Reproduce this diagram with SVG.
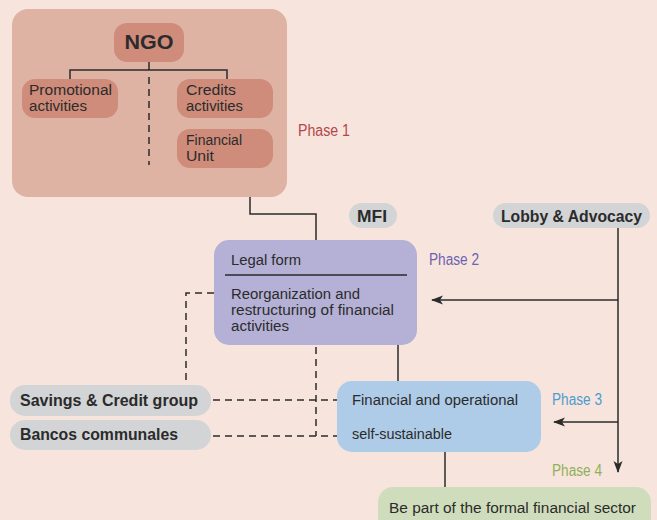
<svg xmlns="http://www.w3.org/2000/svg" width="657" height="520" viewBox="0 0 657 520">
<defs>
<marker id="arr" viewBox="0 0 12 10" markerWidth="12" markerHeight="10" refX="11" refY="5" orient="auto" markerUnits="userSpaceOnUse">
<path d="M0,0.5 L12,5 L0,9.5 L3,5 Z" fill="#2b2b2b"/>
</marker>
<style>
.t{font-family:"Liberation Sans",Arial,sans-serif;font-size:15.5px;fill:#2b2b2b}
.b{font-family:"Liberation Sans",Arial,sans-serif;font-size:16.5px;font-weight:bold;fill:#2b2b2b}
.ph{font-family:"Liberation Sans",Arial,sans-serif;font-size:16px}
.ln{stroke:#2b2b2b;stroke-width:1.5;fill:none}
.dl{stroke:#2b2b2b;stroke-width:1.5;fill:none;stroke-dasharray:7,5}
.inner{fill:#cf8c7a}
.pill{fill:#d3d4d6}
</style>
</defs>
<rect x="0" y="0" width="657" height="520" fill="#f7e5dd"/>

<g id="phase1">
<rect x="12" y="9" width="275" height="188" rx="16" fill="#dfb3a3"/>
</g>

<g id="connectors">
<path class="ln" d="M149,62 V70 M70,79 V70 H227 V79"/>
<path class="dl" d="M149,77 V165"/>
<path class="ln" d="M250,197 V214 H316 V240"/>
<path class="ln" d="M398,345 V381"/>
<path class="ln" d="M445,452 V488"/>
<path class="ln" d="M618,228 V472" marker-end="url(#arr)"/>
<path class="ln" d="M618,300 H432" marker-end="url(#arr)"/>
<path class="ln" d="M618,422 H554" marker-end="url(#arr)"/>
<path class="dl" d="M214,293 H186 V385"/>
<path class="dl" d="M316,347 V436"/>
<path class="dl" d="M213,400 H337"/>
<path class="dl" d="M213,436 H337"/>
</g>

<g id="ngo">
<rect x="114" y="23" width="70" height="39" rx="13" class="inner"/>
<text x="149" y="49" text-anchor="middle" class="b" style="font-size:20px" textLength="49" lengthAdjust="spacingAndGlyphs">NGO</text>
</g>
<g id="promotional">
<rect x="22" y="79" width="96" height="39" rx="13" class="inner"/>
<text x="29" y="95" class="t" textLength="83" lengthAdjust="spacingAndGlyphs">Promotional</text>
<text x="29" y="111" class="t" textLength="58" lengthAdjust="spacingAndGlyphs">activities</text>
</g>
<g id="credits">
<rect x="177" y="79" width="96" height="39" rx="13" class="inner"/>
<text x="186" y="95" class="t" textLength="50" lengthAdjust="spacingAndGlyphs">Credits</text>
<text x="186" y="111" class="t" textLength="57" lengthAdjust="spacingAndGlyphs">activities</text>
</g>
<g id="financialunit">
<rect x="177" y="129" width="96" height="39" rx="13" class="inner"/>
<text x="186" y="145" class="t" textLength="56" lengthAdjust="spacingAndGlyphs">Financial</text>
<text x="186" y="161" class="t" textLength="28" lengthAdjust="spacingAndGlyphs">Unit</text>
</g>
<text x="298" y="136" class="ph" fill="#b5454a" textLength="52" lengthAdjust="spacingAndGlyphs">Phase 1</text>

<g id="mfi">
<rect x="349" y="203" width="48" height="25" rx="12.5" class="pill"/>
<text x="357" y="222" class="b" textLength="30" lengthAdjust="spacingAndGlyphs">MFI</text>
</g>
<g id="lobby">
<rect x="493" y="203" width="157" height="25" rx="12.5" class="pill"/>
<text x="501" y="222" class="b" textLength="141" lengthAdjust="spacingAndGlyphs">Lobby &amp; Advocacy</text>
</g>

<g id="legal">
<rect x="214" y="240" width="203" height="105" rx="15" fill="#b5b1d6"/>
<text x="231" y="265" class="t" textLength="70" lengthAdjust="spacingAndGlyphs">Legal form</text>
<line x1="225" y1="275" x2="407" y2="275" class="ln"/>
<text x="231" y="299" class="t" textLength="129" lengthAdjust="spacingAndGlyphs">Reorganization and</text>
<text x="231" y="315" class="t" textLength="163" lengthAdjust="spacingAndGlyphs">restructuring of financial</text>
<text x="231" y="331" class="t" textLength="58" lengthAdjust="spacingAndGlyphs">activities</text>
</g>
<text x="429" y="265" class="ph" fill="#6d62b0" textLength="50" lengthAdjust="spacingAndGlyphs">Phase 2</text>

<g id="savings">
<rect x="10" y="385" width="201" height="31" rx="15" class="pill"/>
<text x="20" y="406" class="b" textLength="178" lengthAdjust="spacingAndGlyphs">Savings &amp; Credit group</text>
</g>
<g id="bancos">
<rect x="10" y="420" width="201" height="30" rx="15" class="pill"/>
<text x="20" y="440" class="b" textLength="158" lengthAdjust="spacingAndGlyphs">Bancos communales</text>
</g>

<g id="financial">
<rect x="337" y="381" width="204" height="71" rx="15" fill="#aecbe7"/>
<text x="352" y="405" class="t" textLength="166" lengthAdjust="spacingAndGlyphs">Financial and operational</text>
<text x="352" y="439" class="t" textLength="100" lengthAdjust="spacingAndGlyphs">self-sustainable</text>
</g>
<text x="552" y="405" class="ph" fill="#4d9bd0" textLength="50" lengthAdjust="spacingAndGlyphs">Phase 3</text>
<text x="552" y="476" class="ph" fill="#8fb05a" textLength="50" lengthAdjust="spacingAndGlyphs">Phase 4</text>

<g id="formal">
<rect x="378" y="487" width="273" height="50" rx="15" fill="#d0ddbc"/>
<text x="389" y="513" class="t" textLength="247" lengthAdjust="spacingAndGlyphs">Be part of the formal financial sector</text>
</g>
</svg>
